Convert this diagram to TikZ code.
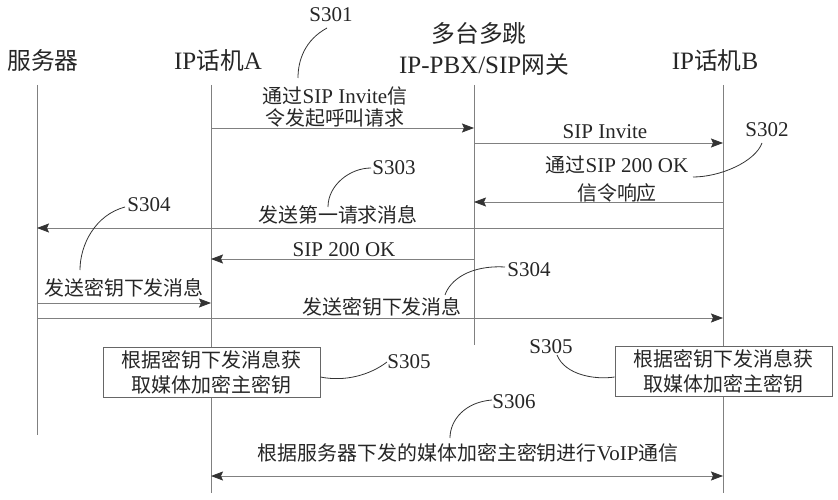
\documentclass[tikz,border=0pt]{standalone}
\usepackage{fontspec}
\setmainfont{Liberation Serif}
\newfontfamily\zhf[Scale=0.95]{Noto Sans CJK SC}
\newcommand\zh[1]{{\zhf #1}}
\usetikzlibrary{arrows.meta}
\begin{document}
\begin{tikzpicture}[x=1pt,y=-1pt,
  life/.style={draw=black!50, line width=0.8pt},
  tip/.tip={Stealth[length=12pt,width=9pt,inset=2pt,color=black!80]},
  msg/.style={draw=black!50, line width=0.8pt, -tip},
  msgboth/.style={draw=black!50, line width=0.8pt, tip-tip},
  lab/.style={font=\fontsize{21}{22}\selectfont, text=black!85, inner sep=0pt, align=center},
  hdr/.style={font=\fontsize{25}{26}\selectfont, text=black!85, inner sep=0pt},
  lead/.style={draw=black!80, line width=0.8pt},
  keybox/.style={draw=black!60, line width=0.8pt, fill=white, minimum width=217pt, minimum height=50pt, inner sep=0pt, align=center, font=\fontsize{21}{22}\selectfont, text=black!85}
]
\useasboundingbox (0,0) rectangle (838,500);
% headers
\node[hdr] (hS) at (43,60) {\zh{服务器}};
\node[hdr] (hA) at (218,60) {IP\zh{话机}A};
\node[hdr] (hG1) at (479,33) {\zh{多台多跳}};
\node[hdr] (hG2) at (484,65) {IP-PBX/SIP\zh{网关}};
\node[hdr] (hB) at (715,60) {IP\zh{话机}B};
% lifelines
\coordinate (sT) at (37,85);  \coordinate (sE) at (37,435);
\coordinate (aT) at (211,85); \coordinate (aE) at (211,493);
\coordinate (gT) at (474,85); \coordinate (gE) at (474,345);
\coordinate (bT) at (723,85); \coordinate (bE) at (723,493);
\draw[life] (sT) -- (sE);
\draw[life] (aT) -- (aE);
\draw[life] (gT) -- (gE);
\draw[life] (bT) -- (bE);
% messages
\draw[msg] (aT |- 0,128) -- (gT |- 0,128);
\node[lab] (m1) at (335,107) {\zh{通过}SIP Invite\zh{信}\\[0pt]\zh{令发起呼叫请求}};
\draw[msg] (gT |- 0,143) -- (bT |- 0,143);
\node[lab] (m2) at (605,132) {SIP Invite};
\draw[msg] (bT |- 0,202) -- (gT |- 0,202);
\node[lab] (m3) at (617,179) {\zh{通过}SIP 200 OK\\[6pt]\zh{信令响应}};
\draw[msg] (bT |- 0,228) -- (sT |- 0,228);
\node[lab] (m4) at (338,215) {\zh{发送第一请求消息}};
\draw[msg] (gT |- 0,259) -- (aT |- 0,259);
\node[lab] (m5) at (344,250) {SIP 200 OK};
\draw[msg] (sT |- 0,303) -- (aT |- 0,303);
\node[lab] (m6) at (124,288) {\zh{发送密钥下发消息}};
\draw[msg] (sT |- 0,318) -- (bT |- 0,318);
\node[lab] (m7) at (382,307) {\zh{发送密钥下发消息}};
% boxes
\node[keybox] (kA) at (211.5,372) {\zh{根据密钥下发消息获}\\[3pt]\zh{取媒体加密主密钥}};
\node[keybox] (kB) at (723.5,371.5) {\zh{根据密钥下发消息获}\\[3pt]\zh{取媒体加密主密钥}};
% bottom
\draw[msgboth] (aT |- 0,476) -- (bT |- 0,476);
\node[lab] (m8) at (468,453) {\zh{根据服务器下发的媒体加密主密钥进行}VoIP\zh{通信}};
% step labels
\node[lab] (s301) at (331,15) {S301};
\node[lab] (s302) at (767,130) {S302};
\node[lab] (s303) at (394,168) {S303};
\node[lab] (s304a) at (149,205) {S304};
\node[lab] (s304b) at (529,270) {S304};
\node[lab] (s305a) at (409,362) {S305};
\node[lab] (s305b) at (551,347) {S305};
\node[lab] (s306) at (514,402) {S306};
% leaders
\draw[lead] (327,28) .. controls (305,40) and (298,60) .. (298,78);
\draw[lead] (762,143) .. controls (755,162) and (720,177) .. (693,177);
\draw[lead] (371,168) .. controls (350,168) and (328,185) .. (328,207);
\draw[lead] (125,207) .. controls (95,215) and (80,245) .. (80,270);
\draw[lead] (505,267) .. controls (470,265) and (450,280) .. (445,295);
\draw[lead] (kA.east |- 0,377) .. controls (345,382) and (370,375) .. (387,362);
\draw[lead] (557,355) .. controls (565,375) and (595,380) .. (kB.west |- 0,377);
\draw[lead] (492,400) .. controls (465,402) and (450,420) .. (450,438);
\end{tikzpicture}
\end{document}
